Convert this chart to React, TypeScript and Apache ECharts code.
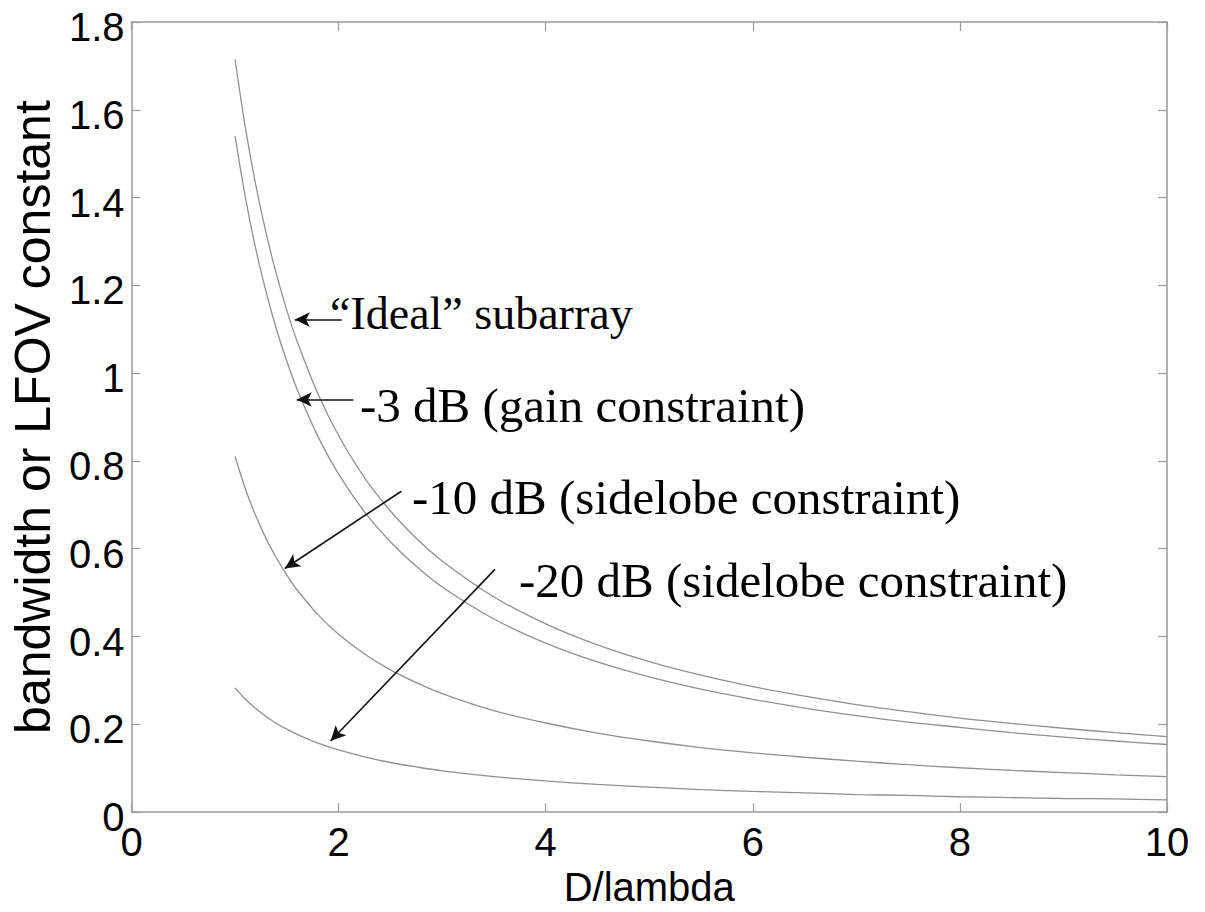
import React, { useEffect, useRef } from "react";
import * as echarts from "echarts";

// D/lambda sample positions
const dOverLambda = [1, 1.1, 1.2, 1.3, 1.4, 1.5, 1.6, 1.8, 2, 2.25, 2.5, 2.75, 3, 3.5, 4, 4.5, 5, 5.5, 6, 6.5, 7, 7.5, 8, 8.5, 9, 9.5, 10];

const idealSubarray = [1.715, 1.559, 1.429, 1.319, 1.225, 1.143, 1.072, 0.953, 0.858, 0.762, 0.686, 0.624, 0.572, 0.49, 0.429, 0.381, 0.343, 0.312, 0.286, 0.264, 0.245, 0.229, 0.214, 0.202, 0.191, 0.181, 0.172];
const gain3dB = [1.54, 1.4, 1.283, 1.185, 1.1, 1.027, 0.963, 0.856, 0.77, 0.684, 0.616, 0.56, 0.513, 0.44, 0.385, 0.342, 0.308, 0.28, 0.257, 0.237, 0.22, 0.205, 0.193, 0.181, 0.171, 0.162, 0.154];
const sidelobe10dB = [0.81, 0.736, 0.675, 0.623, 0.579, 0.54, 0.506, 0.45, 0.405, 0.36, 0.324, 0.295, 0.27, 0.231, 0.203, 0.18, 0.162, 0.147, 0.135, 0.125, 0.116, 0.108, 0.101, 0.095, 0.09, 0.085, 0.081];
const sidelobe20dB = [0.283, 0.257, 0.236, 0.218, 0.202, 0.189, 0.177, 0.157, 0.142, 0.126, 0.113, 0.103, 0.094, 0.081, 0.071, 0.063, 0.057, 0.051, 0.047, 0.044, 0.04, 0.038, 0.035, 0.033, 0.031, 0.03, 0.028];

// annotation arrows in data coordinates: [fromX, fromY, toX, toY]
const arrowIdeal = [2.03, 1.122, 1.577, 1.122];
const arrow3dB = [2.144, 0.94, 1.596, 0.94];
const arrow10dB = [2.606, 0.731, 1.481, 0.555];
const arrow20dB = [3.51, 0.553, 1.923, 0.162];

const labelIdeal = "\u201CIdeal\u201D subarray";
const label3dB = "-3 dB (gain constraint)";
const label10dB = "-10 dB (sidelobe constraint)";
const label20dB = "-20 dB (sidelobe constraint)";

const xName = "D/lambda";
const yName = "bandwidth or LFOV constant";

const AXIS_GRAY = "#9a9a9a";
const CURVE_GRAY = "#909090";
const SANS = "Liberation Sans, Arial, sans-serif";
const SERIF = "Liberation Serif, Times New Roman, serif";

function toPairs(ys: number[]) {
  return dOverLambda.map((x, i) => [x, ys[i]]);
}

function arrow(a: number[]) {
  return [
    { coord: [a[0], a[1]], symbol: "none" },
    { coord: [a[2], a[3]], symbol: "arrow", symbolSize: [11, 15] },
  ];
}

export default function App() {
  const ref = useRef<HTMLDivElement>(null);

  useEffect(() => {
    if (!ref.current) return;
    const chart = echarts.init(ref.current, undefined, { renderer: "svg" });

    const baseX = {
      type: "value",
      min: 0,
      max: 10,
      interval: 2,
      splitLine: { show: false },
      axisLine: { show: true, onZero: false, lineStyle: { color: AXIS_GRAY, width: 1.5 } },
      axisTick: { show: true, inside: true, length: 9, lineStyle: { color: AXIS_GRAY, width: 1.2 } },
    };
    const baseY = {
      type: "value",
      min: 0,
      max: 1.8,
      interval: 0.2,
      splitLine: { show: false },
      axisLine: { show: true, onZero: false, lineStyle: { color: AXIS_GRAY, width: 1.5 } },
      axisTick: { show: true, inside: true, length: 9, lineStyle: { color: AXIS_GRAY, width: 1.2 } },
    };

    const curve = (name: string, ys: number[]) => ({
      name,
      type: "line",
      data: toPairs(ys),
      smooth: 0.3,
      showSymbol: false,
      symbol: "none",
      lineStyle: { color: CURVE_GRAY, width: 1.3 },
      silent: true,
    });

    const markArrows = {
      silent: true,
      symbol: ["none", "arrow"],
      label: { show: false },
      lineStyle: { color: "#111", width: 1.6, type: "solid" },
      data: [arrow(arrowIdeal), arrow(arrow3dB), arrow(arrow10dB), arrow(arrow20dB)],
    };

    const s1: any = curve("Ideal", idealSubarray);
    s1.markLine = markArrows;

    const textStyle = (size: number) => ({
      fill: "#000",
      fontFamily: SERIF,
      fontSize: size,
      verticalAlign: "middle",
      align: "left",
    });

    chart.setOption({
      animation: false,
      backgroundColor: "#ffffff",
      grid: { left: 127, right: 38, top: 22, bottom: 99 },
      xAxis: [
        {
          ...baseX,
          position: "bottom",
          name: xName,
          nameLocation: "middle",
          nameGap: 44,
          nameTextStyle: { color: "#000", fontFamily: SANS, fontSize: 40 },
          axisLabel: { color: "#000", fontFamily: SANS, fontSize: 40, margin: 10 },
        },
        { ...baseX, position: "top", axisLabel: { show: false } },
      ],
      yAxis: [
        {
          ...baseY,
          position: "left",
          name: yName,
          nameLocation: "middle",
          nameGap: 68,
          nameTextStyle: { color: "#000", fontFamily: SANS, fontSize: 50 },
          axisLabel: {
            color: "#000",
            fontFamily: SANS,
            fontSize: 40,
            margin: 7,
            formatter: "{v|{value}}",
            rich: { v: { color: "#000", fontFamily: SANS, fontSize: 40, padding: [10, 0, 0, 0] } },
          },
        },
        { ...baseY, position: "right", axisLabel: { show: false } },
      ],
      series: [
        s1,
        curve("-3 dB", gain3dB),
        curve("-10 dB", sidelobe10dB),
        curve("-20 dB", sidelobe20dB),
      ],
      graphic: [
        { type: "text", x: 330, y: 313, style: { text: labelIdeal, ...textStyle(46) } },
        { type: "text", x: 360, y: 405, style: { text: label3dB, ...textStyle(49) } },
        { type: "text", x: 412, y: 497, style: { text: label10dB, ...textStyle(49) } },
        { type: "text", x: 519, y: 580, style: { text: label20dB, ...textStyle(49) } },
      ],
    });

    return () => chart.dispose();
  }, []);

  return (
    <div
      ref={ref}
      style={{ position: "absolute", left: 0, top: 0, width: 1205, height: 912, background: "#fff" }}
    />
  );
}
